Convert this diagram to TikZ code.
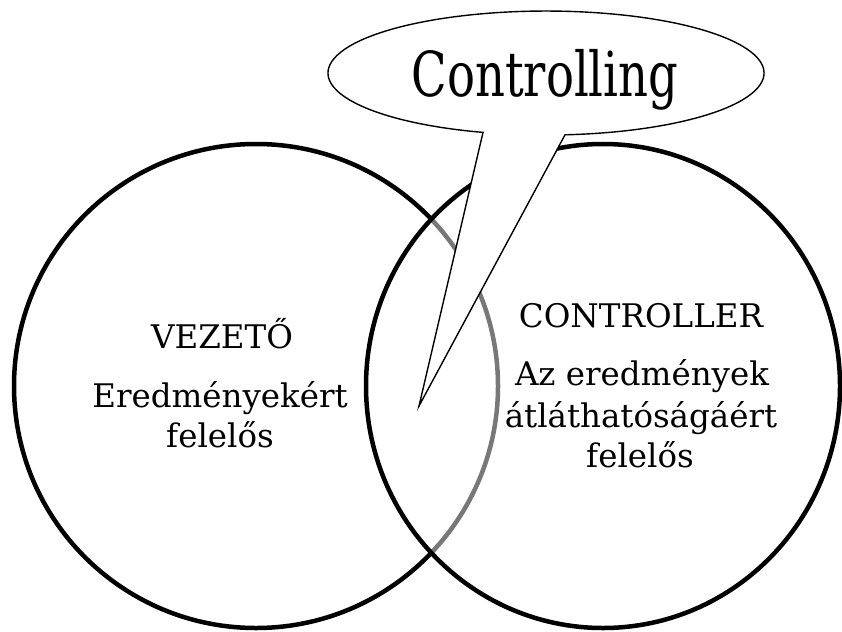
\documentclass[tikz,border=0pt]{standalone}
\usepackage{fontspec}
\setmainfont{DejaVu Serif}
\newfontfamily\ctlfont[FakeStretch=0.75]{DejaVu Serif}
\begin{document}
\begin{tikzpicture}[x=1pt,y=-1pt,
  lbl/.style={anchor=base, inner sep=0pt, font=\fontsize{32.5}{38}\selectfont},
  ring/.style={line width=4.5pt},
  bubble/.style={fill=white, draw=black, line width=1.4pt, line join=miter}]
\useasboundingbox (0,0) rectangle (842,631);
% circles
\draw[ring] (256,386) circle[radius=242];
\fill[white, fill opacity=0.47] (603,386) ellipse[x radius=237, y radius=242];
\draw[ring] (603,386) ellipse[x radius=237, y radius=242];
% callout
\coordinate (tl) at (483,132.4);
\coordinate (tip) at (419,406);
\draw[bubble] (tl) arc[start angle=106.8, end angle=445, x radius=218, y radius=62] -- (tip) -- cycle;
\node[anchor=base, inner sep=0pt, font=\ctlfont\fontsize{62}{70}\selectfont] (ctl) at (545,97) {Controlling};
% left texts
\node[lbl] (vt) at (222,348) {VEZETŐ};
\node[lbl] (v1) at (220,407) {Eredményekért};
\node[lbl] (v2) at (220,447) {felelős};
% right texts
\node[lbl] (ct) at (641,327) {CONTROLLER};
\node[lbl] (c1) at (642,385) {Az eredmények};
\node[lbl] (c2) at (641,427) {átláthatóságáért};
\node[lbl] (c3) at (640,467) {felelős};
\end{tikzpicture}
\end{document}
